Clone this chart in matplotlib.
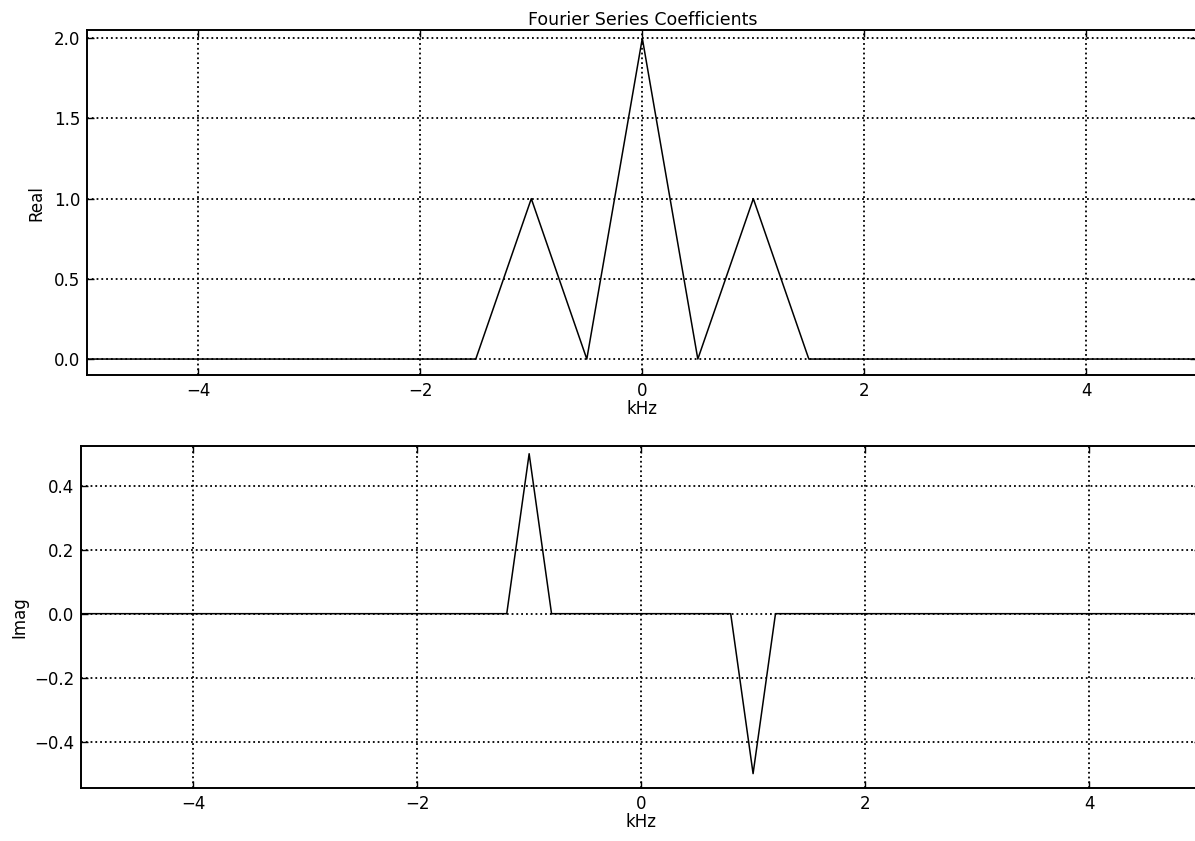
import matplotlib
matplotlib.use("Agg")
import matplotlib.pyplot as plt

# Fourier series coefficients (frequency in kHz)
freq_real = [-5.0, -1.5, -1.0, -0.5, 0.0, 0.5, 1.0, 1.5, 5.0]
coef_real = [0.0, 0.0, 1.0, 0.0, 2.0, 0.0, 1.0, 0.0, 0.0]

freq_imag = [-5.0, -1.2, -1.0, -0.8, 0.8, 1.0, 1.2, 5.0]
coef_imag = [0.0, 0.0, 0.5, 0.0, 0.0, -0.5, 0.0, 0.0]

real_yticks = [0.0, 0.5, 1.0, 1.5, 2.0]
imag_yticks = [-0.4, -0.2, 0.0, 0.2, 0.4]
xticks = [-4, -2, 0, 2, 4]

plt.rcParams["font.family"] = "DejaVu Sans"
plt.rcParams["font.size"] = 12

fig = plt.figure(figsize=(11.95, 8.41), dpi=100)
ax1 = fig.add_axes([0.073, 0.554, 0.929, 0.41])
ax2 = fig.add_axes([0.068, 0.063, 0.937, 0.407])


def style(ax):
    ax.grid(True, color="black", linestyle=":", linewidth=1.3)
    ax.tick_params(direction="in", top=True, right=True, length=5,
                   width=1, labelsize=12, pad=5)
    for s in ax.spines.values():
        s.set_linewidth(1.4)
    ax.set_xlim(-5, 5)
    ax.set_xticks(xticks)
    ax.set_xlabel("kHz", labelpad=0)


ax1.plot(freq_real, coef_real, color="black", linewidth=1.1)
ax1.set_ylim(-0.1, 2.05)
ax1.set_yticks(real_yticks)
ax1.set_ylabel("Real", labelpad=6)
ax1.set_title("Fourier Series Coefficients", fontsize=12.5, pad=4)
style(ax1)

ax2.plot(freq_imag, coef_imag, color="black", linewidth=1.1)
ax2.set_ylim(-0.545, 0.525)
ax2.set_yticks(imag_yticks)
ax2.set_ylabel("Imag", labelpad=4)
style(ax2)

fig.savefig("out.png", dpi=100, facecolor="white")
